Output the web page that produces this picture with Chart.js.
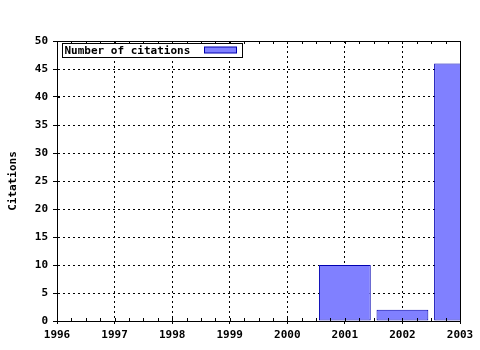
<!DOCTYPE html>
<html><head><meta charset="utf-8">
<script src="https://cdn.jsdelivr.net/npm/chart.js@4"></script>
<style>html,body{margin:0;padding:0;background:#fff}</style>
</head><body>
<canvas id="c" width="480" height="350"></canvas>
<script>
const years = [2001, 2002, 2003];
const citations = [10, 2, 46];
const xTickValues = [1996, 1997, 1998, 1999, 2000, 2001, 2002, 2003];
const yTickValues = [0, 5, 10, 15, 20, 25, 30, 35, 40, 45, 50];
const seriesLabel = 'Number of citations';
const yTitle = 'Citations';

const FONT = {family: '"DejaVu Sans Mono", "Liberation Mono", monospace', size: 11, weight: 'bold'};

const framePlugin = {
  id: 'frame',
  afterDraw(chart) {
    const {ctx, chartArea: a, scales} = chart;
    const xs = scales.x;
    ctx.save();
    ctx.setLineDash([]);
    ctx.strokeStyle = '#000';
    ctx.lineWidth = 1;
    ctx.strokeRect(Math.round(a.left) + 0.5, Math.round(a.top) + 0.5, Math.round(a.right - a.left), Math.round(a.bottom - a.top));
    ctx.beginPath();
    for (let i = 0; i < xTickValues.length - 1; i++) {
      for (let q = 0; q <= 4; q++) {
        const v = xTickValues[i] + q / 4;
        const px = Math.round(xs.getPixelForValue(v)) + 0.5;
        ctx.moveTo(px, a.bottom); ctx.lineTo(px, a.bottom - 3);
        ctx.moveTo(px, a.top); ctx.lineTo(px, a.top + 3);
      }
    }
    const ys = scales.y;
    yTickValues.forEach(v => {
      const py = Math.round(ys.getPixelForValue(v)) + 0.5;
      ctx.moveTo(a.left, py); ctx.lineTo(a.left + 3, py);
    });
    ctx.stroke();
    const ds = chart.data.datasets[0];
    const bx = Math.round(a.left) + 5.5, by = Math.round(a.top) + 2.5;
    ctx.font = `${FONT.weight} ${FONT.size}px ${FONT.family}`;
    const bw = 180, bh = 14;
    ctx.fillStyle = '#fff';
    ctx.fillRect(bx, by, bw, bh);
    ctx.strokeRect(bx, by, bw, bh);
    ctx.fillStyle = '#000';
    ctx.textBaseline = 'middle';
    ctx.textAlign = 'left';
    ctx.fillText(ds.label, bx + 2, by + bh / 2 + 0.5);
    const sx = bx + 142, sy = by + 3.5;
    ctx.fillStyle = ds.backgroundColor;
    ctx.fillRect(sx, sy, 32, 6);
    ctx.strokeStyle = ds.borderColor;
    ctx.strokeRect(sx, sy, 32, 6);
    ctx.restore();
  }
};

new Chart(document.getElementById('c'), {
  type: 'bar',
  data: {
    datasets: [{
      label: seriesLabel,
      data: years.map((y, i) => ({x: y, y: citations[i]})),
      backgroundColor: '#8080ff',
      borderColor: '#0000b0',
      borderWidth: 1,
      borderSkipped: false,
      barPercentage: 1,
      categoryPercentage: 0.9,
      clip: 0
    }]
  },
  options: {
    responsive: false,
    animation: false,
    devicePixelRatio: 1,
    layout: {padding: {left: 0, right: 20, top: 41, bottom: 0}},
    plugins: {legend: {display: false}, tooltip: {enabled: false}},
    scales: {
      x: {
        type: 'linear',
        offset: false,
        min: 1996, max: 2003,
        afterBuildTicks: s => { s.ticks = xTickValues.map(v => ({value: v})); },
        afterFit: s => { s.height = 29; },
        ticks: {font: FONT, color: '#000', padding: 5, maxRotation: 0, autoSkip: false,
                callback: v => String(v)},
        grid: {offset: false, color: '#000', lineWidth: 1, tickLength: 3, tickColor: '#000'},
        border: {display: true, color: '#000', width: 1, dash: [2, 3]}
      },
      y: {
        min: 0, max: 50,
        afterBuildTicks: s => { s.ticks = yTickValues.map(v => ({value: v})); },
        afterFit: s => { s.width = 57; },
        ticks: {font: FONT, color: '#000', padding: 5},
        grid: {color: '#000', lineWidth: 1, tickLength: 4, tickColor: '#000'},
        border: {display: true, color: '#000', width: 1, dash: [2, 3]},
        title: {display: true, text: yTitle, font: FONT, color: '#000', padding: {top: 7, bottom: 0}}
      }
    }
  },
  plugins: [framePlugin]
});
</script>
</body></html>
